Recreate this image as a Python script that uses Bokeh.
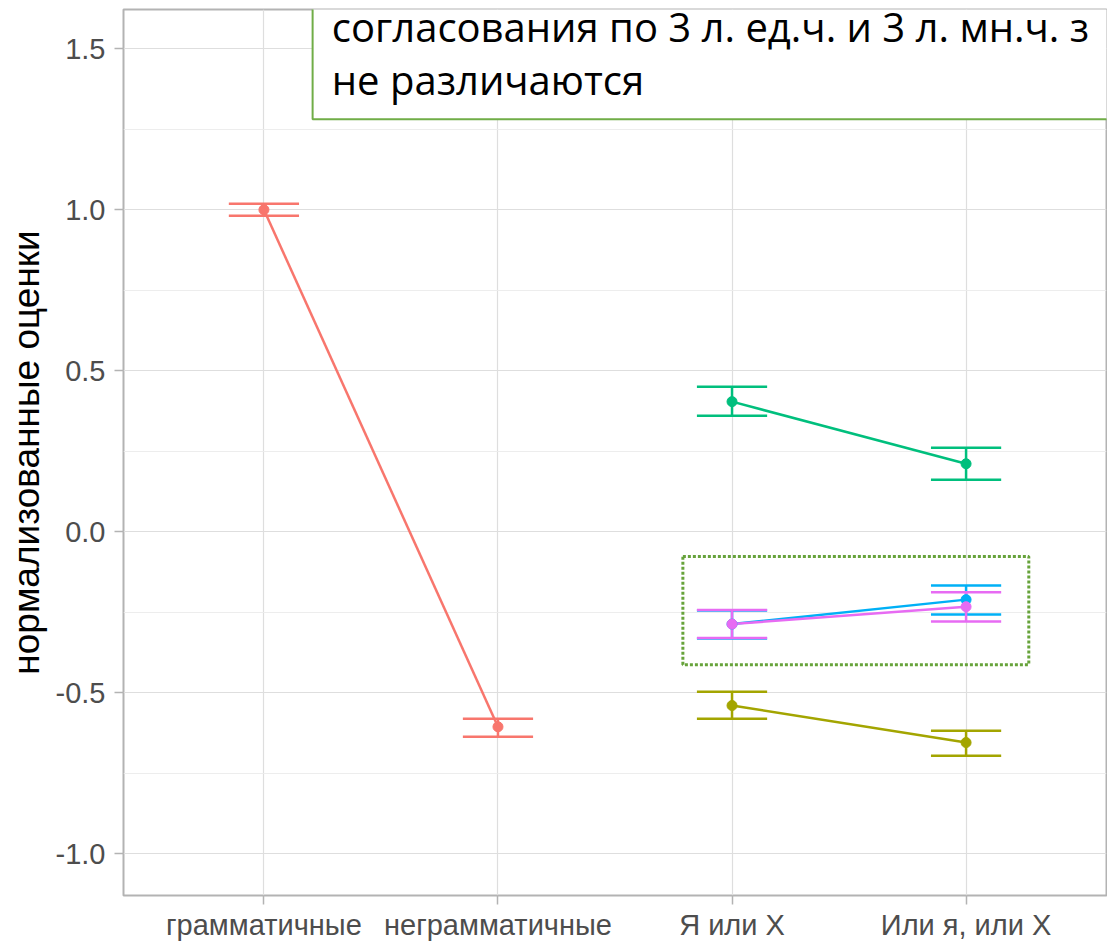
from bokeh.plotting import figure
from bokeh.models import Range1d, FixedTicker
from bokeh.core.properties import value
from bokeh.embed import file_html
from bokeh.resources import INLINE

# ---- data ----
categories = ["грамматичные", "неграмматичные", "Я или X", "Или я, или X"]
cat_pos = [1, 2, 3, 4]
y_ticks = [-1.0, -0.5, 0.0, 0.5, 1.0, 1.5]
y_tick_labels = ["-1.0", "-0.5", "0.0", "0.5", "1.0", "1.5"]
y_minor = [-0.75, -0.25, 0.25, 0.75, 1.25]

red_x = [1, 2]
red_mean = [1.000, -0.606]
red_lo = [0.981, -0.637]
red_hi = [1.019, -0.581]

olive_x = [3, 4]
olive_mean = [-0.540, -0.655]
olive_lo = [-0.581, -0.696]
olive_hi = [-0.497, -0.618]

green_x = [3, 4]
green_mean = [0.404, 0.211]
green_lo = [0.360, 0.161]
green_hi = [0.450, 0.261]

blue_x = [3, 4]
blue_mean = [-0.287, -0.211]
blue_lo = [-0.332, -0.257]
blue_hi = [-0.245, -0.167]

pink_x = [3, 4]
pink_mean = [-0.287, -0.233]
pink_lo = [-0.330, -0.279]
pink_hi = [-0.243, -0.188]

note_lines = ["согласования по 3 л. ед.ч. и 3 л. мн.ч. з", "не различаются"]
y_title = "нормализованные оценки"

series = [
    ("#F8766D", red_x, red_mean, red_lo, red_hi),
    ("#A3A500", olive_x, olive_mean, olive_lo, olive_hi),
    ("#00BF7D", green_x, green_mean, green_lo, green_hi),
    ("#00B0F6", blue_x, blue_mean, blue_lo, blue_hi),
    ("#E76BF3", pink_x, pink_mean, pink_lo, pink_hi),
]

p = figure(width=1107, height=943, output_backend="svg", toolbar_location=None,
           x_range=Range1d(0.4, 4.6), y_range=Range1d(-1.13, 1.622),
           min_border_left=123, min_border_right=1, min_border_top=9, min_border_bottom=48)
p.background_fill_color = "white"
p.border_fill_color = "white"
p.outline_line_color = "#B3B3B3"
p.outline_line_width = 2

# grids
p.xaxis.ticker = FixedTicker(ticks=cat_pos)
p.xaxis.major_label_overrides = {c: t for c, t in zip(cat_pos, categories)}
p.yaxis.ticker = FixedTicker(ticks=y_ticks, minor_ticks=y_minor)
p.yaxis.major_label_overrides = {v: t for v, t in zip(y_ticks, y_tick_labels)}
p.xgrid.grid_line_color = "#DEDEDE"
p.xgrid.grid_line_width = 1.2
p.ygrid.grid_line_color = "#DEDEDE"
p.ygrid.grid_line_width = 1.2
p.ygrid.minor_grid_line_color = "#EBEBEB"
p.ygrid.minor_grid_line_width = 0.9

for ax in (p.xaxis, p.yaxis):
    ax.axis_line_color = None
    ax.major_tick_line_color = "#B3B3B3"
    ax.major_tick_line_width = 1.5
    ax.major_tick_out = 9
    ax.major_tick_in = 0
    ax.minor_tick_line_color = None
    ax.major_label_text_color = "#4D4D4D"
    ax.major_label_text_font = "Liberation Sans"
    ax.major_label_text_font_size = "29px"
p.xaxis.major_label_standoff = 4
p.yaxis.major_label_standoff = 9
p.yaxis.axis_label = y_title
p.yaxis.axis_label_text_font = "Liberation Sans"
p.yaxis.axis_label_text_font_size = "37px"
p.yaxis.axis_label_text_font_style = "normal"
p.yaxis.axis_label_text_color = "black"
p.yaxis.axis_label_standoff = 6

# annotation box (white box with green border)
p.quad(left=[1.208], right=[4.9], bottom=[1.281], top=[1.9],
       fill_color="white", line_color="#70AD47", line_width=2)
p.text(x=[1.29, 1.29], y=[1.568, 1.404], text=note_lines,
       text_font=value("Open Sans"), text_font_size="40px", text_color="black",
       text_baseline="alphabetic", text_align="left")

# dotted highlight rectangle
p.quad(left=[2.79], right=[4.268], bottom=[-0.413], top=[-0.077],
       fill_alpha=0, line_color="#67A33B", line_width=3, line_dash="3 2")

cap = 0.15
# lines
for col, xs, m, lo, hi in series:
    p.line(xs, m, line_color=col, line_width=2.5)
# error bars
for col, xs, m, lo, hi in series:
    p.segment(x0=xs, y0=lo, x1=xs, y1=hi, line_color=col, line_width=2.5)
    p.segment(x0=[x - cap for x in xs], y0=lo, x1=[x + cap for x in xs], y1=lo,
              line_color=col, line_width=2.5)
    p.segment(x0=[x - cap for x in xs], y0=hi, x1=[x + cap for x in xs], y1=hi,
              line_color=col, line_width=2.5)
# points
for col, xs, m, lo, hi in series:
    p.scatter(xs, m, size=10, fill_color=col, line_color=col)

open("out.html", "w").write(file_html(p, INLINE))
